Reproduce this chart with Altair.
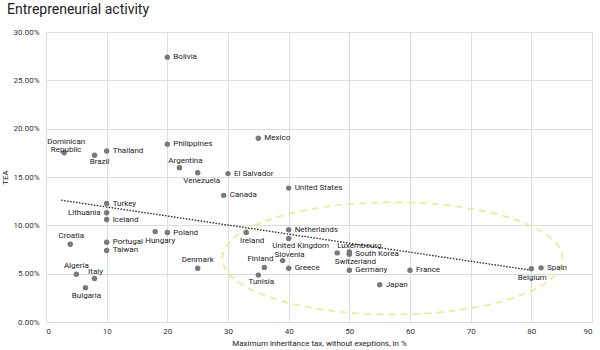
import altair as alt
import pandas as pd

# ---- data ----
countries = ["Bolivia", "Dominican Republic", "Brazil", "Thailand", "Philippines", "Mexico",
             "Argentina", "Venezuela", "El Salvador", "Canada", "United States", "Turkey",
             "Lithuania", "Iceland", "Croatia", "Portugal", "Taiwan", "Hungary", "Poland",
             "Algeria", "Italy", "Bulgaria", "Denmark", "Ireland", "Finland", "Tunisia",
             "Slovenia", "Greece", "Netherlands", "United Kingdom", "Luxembourg",
             "South Korea", "Switzerland", "Germany", "France", "Japan", "Belgium", "Spain"]
inheritance_tax = [20, 3, 8, 10, 20, 35,
                   22, 25, 30, 29.3, 40, 10,
                   10, 10, 4, 10, 10, 18, 20,
                   5, 8, 6.5, 25, 33, 36, 35,
                   39, 40, 40, 40, 48,
                   50, 50, 50, 60, 55, 80, 81.6]
tea_pct = [27.4, 17.5, 17.25, 17.7, 18.4, 19.0,
           15.95, 15.45, 15.35, 13.1, 13.85, 12.25,
           11.3, 10.6, 8.05, 8.25, 7.4, 9.35, 9.25,
           4.95, 4.5, 3.55, 5.55, 9.25, 5.65, 4.85,
           6.35, 5.55, 9.55, 8.65, 7.15,
           7.0, 7.25, 5.35, 5.35, 3.85, 5.5, 5.6]

trend_x = [2.5, 80]
trend_tea_pct = [12.6, 5.35]

highlight_center_x = [57.1]
highlight_center_tea_pct = [6.58]

df = pd.DataFrame({"country": countries, "tax": inheritance_tax,
                   "tea": [v / 100 for v in tea_pct]})
df["label"] = df["country"].replace({"Dominican Republic": "Dominican\nRepublic"})
trend_df = pd.DataFrame({"tax": trend_x, "tea": [v / 100 for v in trend_tea_pct]})
ell_df = pd.DataFrame({"tax": highlight_center_x,
                       "tea": [v / 100 for v in highlight_center_tea_pct]})

# ---- label placement (style, not data) ----
right = (6, 0, "left", "middle")
label_pos = {c: right for c in countries}
label_pos.update({
    "Lithuania": (-6, 0, "right", "middle"),
    "Croatia": (1, -8, "center", "middle"),
    "Algeria": (0, -8, "center", "middle"),
    "Italy": (1, -7, "center", "middle"),
    "Denmark": (0, -8, "center", "middle"),
    "Finland": (-4, -8, "center", "middle"),
    "Argentina": (6, -7, "center", "middle"),
    "Slovenia": (7, -6, "center", "middle"),
    "Luxembourg": (0, -7, "left", "middle"),
    "Bulgaria": (1, 8, "center", "middle"),
    "Tunisia": (3, 7, "center", "middle"),
    "Belgium": (1, 9, "center", "middle"),
    "Venezuela": (4, 8, "center", "middle"),
    "Brazil": (5, 7, "center", "middle"),
    "Hungary": (5, 9, "center", "middle"),
    "Ireland": (6, 8, "center", "middle"),
    "United Kingdom": (12, 8, "center", "middle"),
    "Switzerland": (6, 10, "center", "middle"),
    "Dominican Republic": (2, -11, "center", "middle"),
})

FONT = "Roboto"
x_enc = alt.X("tax:Q", scale=alt.Scale(domain=[0, 90], nice=False),
              axis=alt.Axis(values=list(range(0, 91, 10)),
                            title="Maximum inheritance tax, without exeptions, in %"))
y_enc = alt.Y("tea:Q", scale=alt.Scale(domain=[0, 0.30], nice=False),
              axis=alt.Axis(values=[0, 0.05, 0.10, 0.15, 0.20, 0.25, 0.30],
                            format=".2%", title="TEA", titleX=-37))

base = alt.Chart(df)

k = 0.5523
r = 0.33
kr = round(k * r, 4)
ellipse_path = (f"M -1 0 C -1 {-kr} {-k} {-r} 0 {-r} C {k} {-r} 1 {-kr} 1 0 "
                f"C 1 {kr} {k} {r} 0 {r} C {-k} {r} -1 {kr} -1 0 Z")

ellipse = alt.Chart(ell_df).mark_point(
    shape=ellipse_path, size=340 ** 2, filled=False, stroke="#efe98a",
    strokeWidth=1.6, strokeDash=[7, 5], opacity=1
).encode(x=x_enc, y=y_enc)

trend = alt.Chart(trend_df).mark_line(
    color="#222222", strokeWidth=1.3, strokeDash=[1.5, 1.5]
).encode(x=x_enc, y=y_enc)

points = base.mark_circle(size=30, color="#7a7a7a", opacity=1).encode(x=x_enc, y=y_enc)

groups = {}
for c in countries:
    groups.setdefault(label_pos[c], []).append(c)

label_layers = []
for (dx, dy, align, baseline), names in groups.items():
    label_layers.append(
        base.transform_filter(alt.FieldOneOfPredicate(field="country", oneOf=names))
        .mark_text(dx=dx, dy=dy, align=align, baseline=baseline, font=FONT,
                   fontSize=8, color="#222222", lineBreak="\n", lineHeight=8)
        .encode(x=x_enc, y=y_enc, text="label:N")
    )

chart = alt.layer(ellipse, trend, points, *label_layers).properties(
    width=546, height=290,
    padding={"left": 46, "top": 32, "right": 8, "bottom": 28},
    autosize=alt.AutoSizeParams(type="none"),
    title=alt.TitleParams("Entrepreneurial activity", anchor="start", frame="group",
                          dx=-39, offset=11, font=FONT, fontSize=14,
                          fontWeight="normal", color="#222222"),
).configure_view(stroke="#dddddd").configure_axis(
    grid=True, gridColor="#dddddd", domain=False, ticks=False,
    labelFont=FONT, labelFontSize=8, labelColor="#333333",
    titleFont=FONT, titleFontSize=8, titleFontWeight="normal", titleColor="#222222",
).configure_axisX(labelPadding=5, titlePadding=4).configure_axisY(
    labelPadding=7)

chart.save("out.html", embed_options={"renderer": "svg", "actions": False})
